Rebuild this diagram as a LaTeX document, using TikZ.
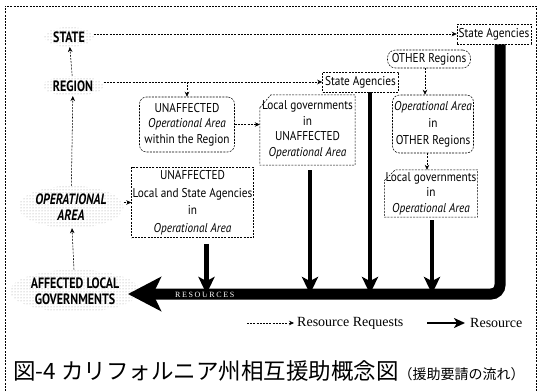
\documentclass[tikz,border=0pt]{standalone}
\usepackage{fontspec}
\setmainfont{Liberation Serif}
\newfontfamily\dgf[FakeStretch=0.88]{PT Sans}
\newfontfamily\lbf[FakeStretch=0.80]{PT Sans}
\newfontfamily\rsf[LetterSpace=20]{Liberation Serif}
\newfontfamily\cjk{Noto Sans CJK JP}
\usetikzlibrary{arrows.meta,patterns,shapes.geometric}
\begin{document}
\begin{tikzpicture}[x=1pt,y=-1pt,
  dl/.style={dash pattern=on 2pt off 1.2pt, line width=0.55pt},
  req/.style={dl,-{Stealth[length=5pt,width=4.5pt]}},
  res/.style={line width=4.5pt,-{Stealth[length=17pt,width=16pt,inset=4pt]}},
  big/.style={line width=11pt,rounded corners=9pt,-{Stealth[length=33pt,width=34pt,inset=8pt]}},
  txt/.style={font=\dgf\fontsize{12.8}{15.5}\selectfont,align=center,inner sep=0pt},
  dbox/.style={txt,draw,dl},
  rbox/.style={dbox,rounded corners=7pt},
  lab/.style={font=\lbf\bfseries\fontsize{15}{16}\selectfont,align=center,inner sep=1.5pt,
    ellipse,pattern=dots,pattern color=black!40}
]
\useasboundingbox (0,0) rectangle (539,391);
\draw[dl] (5,391) -- (5,6) -- (536,6) -- (536,391);

% level labels
\node[lab] (state) at (69,37) {STATE};
\node[lab] (region) at (73,86) {REGION};
\node[lab] (oparea) at (71,207) {\itshape OPERATIONAL\\\itshape AREA};
\node[lab] (aff) at (75,291) {AFFECTED LOCAL\\GOVERNMENTS};

% boxes
\node[dbox,minimum width=74pt,minimum height=20pt] (sa1) at (494,34) {State Agencies};
\node[dbox,minimum width=76pt,minimum height=20pt] (sa2) at (360.5,82) {State Agencies};
\node[dbox,rounded corners=8pt,minimum width=83pt,minimum height=18pt] (other) at (429,59) {OTHER Regions};
\node[rbox,minimum width=95pt,minimum height=55pt] (uoa) at (187,124.5) {UNAFFECTED\\\textit{Operational Area}\\within the Region};
\node[txt,minimum width=95pt,minimum height=70pt] (lg1) at (307.5,130) {Local governments\\in\\UNAFFECTED\\\textit{Operational Area}};
\draw[dl] ([yshift=-13pt]lg1.north west) -- ([xshift=11pt]lg1.north west) -- (lg1.north east) -- (lg1.south east) -- (lg1.south west) -- cycle;
\node[rbox,minimum width=81pt,minimum height=58pt] (oao) at (433,124) {\textit{Operational Area}\\[1.5pt]in\\[1.5pt]OTHER Regions};
\node[txt,minimum width=93pt,minimum height=47pt] (lg2) at (431,193.5) {Local governments\\in\\\textit{Operational Area}};
\draw[dl] ([yshift=-11pt]lg2.north west) -- ([xshift=11pt]lg2.north west) -- (lg2.north east) -- (lg2.south east) -- (lg2.south west) -- cycle;
\node[dbox,minimum width=122pt,minimum height=70pt] (ulsa) at (192.5,202.5) {UNAFFECTED\\[2pt]Local and State Agencies\\[2pt]in\\[2pt]\textit{Operational Area}};

% resource requests
\draw[req] (region) -- (state);
\draw[req] (state.east |- sa1.west) -- (sa1.west);
\draw[req] (region.east |- sa2.west) -- (sa2.west);
\draw[req] (uoa.north |- sa2.west) -- (uoa.north);
\draw[req] (uoa.east) -- (uoa.east -| lg1.west);
\draw[req] ([xshift=-4pt]other.south) -- ([xshift=-4pt]other.south |- oao.north);
\draw[req] ([xshift=-6pt]oao.south) -- ([xshift=-6pt]oao.south |- lg2.north);
\draw[req] (oparea) -- (region);
\draw[req] (aff) -- (oparea);
\draw[req] (oparea.east |- ulsa.west) -- (ulsa.west);

% resources
\coordinate (tip) at (128,294);
\draw[big] ([xshift=6pt]sa1.south) |- (tip);
\node[font=\rsf\fontsize{8}{8}\selectfont,text=white,anchor=west,inner sep=0pt] (rtxt) at (175,294.5) {RESOURCES};
\draw[res] ([xshift=14pt,yshift=-6pt]ulsa.south) -- ([xshift=14pt]ulsa.south |- tip);
\draw[res] ([xshift=2.5pt,yshift=-5pt]lg1.south) -- ([xshift=2.5pt]lg1.south |- tip);
\draw[res] ([xshift=9.5pt]sa2.south) -- ([xshift=9.5pt]sa2.south |- tip);
\draw[res] ([xshift=1pt,yshift=-3pt]lg2.south) -- ([xshift=1pt]lg2.south |- tip);

% legend
\coordinate (l1) at (247,323);
\node[anchor=west,font=\fontsize{14}{14}\selectfont,inner sep=0pt] (lrr) at (297,323) {Resource Requests};
\draw[req] (l1) -- ([xshift=-3pt]lrr.west);
\coordinate (l2) at (427,323);
\node[anchor=west,font=\fontsize{14}{14}\selectfont,inner sep=0pt] (lr) at (470,323) {Resource};
\draw[line width=2.5pt,-{Stealth[length=11pt,width=10pt,inset=3pt]}] (l2) -- ([xshift=-5pt]lr.west);

% caption
\node[anchor=west,inner sep=0pt,font=\cjk\fontsize{22.5}{22.5}\selectfont] (cap) at (13,371) {図-4 カリフォルニア州相互援助概念図{\fontsize{14}{14}\selectfont （援助要請の流れ）}};
\end{tikzpicture}
\end{document}
